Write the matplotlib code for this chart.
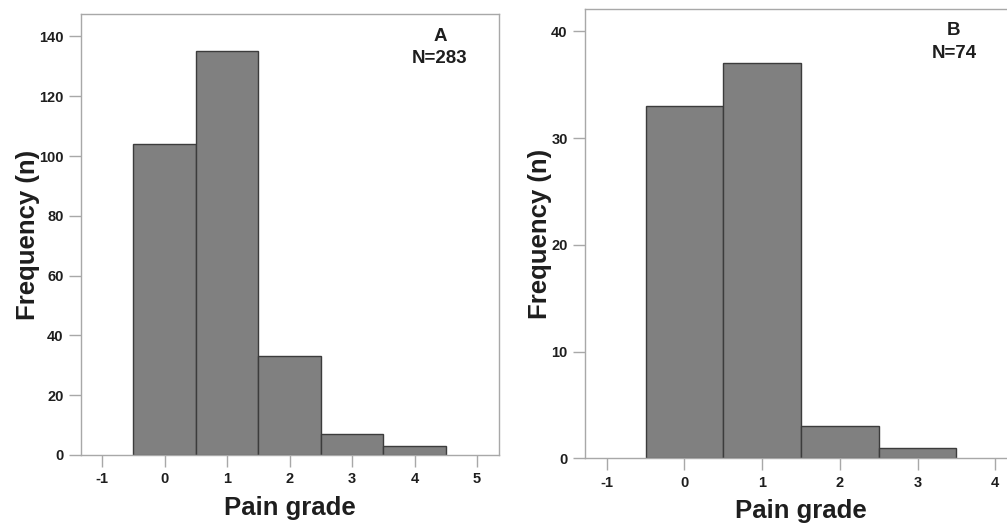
import numpy as np
import matplotlib.pyplot as plt

plt.rcParams['font.family'] = ['Liberation Sans', 'DejaVu Sans']
plt.rcParams['font.weight'] = 'bold'
plt.rcParams['axes.unicode_minus'] = False

# panel A
grades_a = [0, 1, 2, 3, 4]
counts_a = [104, 135, 33, 7, 3]
# panel B
grades_b = [0, 1, 2, 3]
counts_b = [33, 37, 3, 1]

yticks_a = [0, 20, 40, 60, 80, 100, 120, 140]
yticks_b = [0, 10, 20, 30, 40]

BAR = '#808080'
EDGE = '#3c3c3c'
SPINE = '#a8a8a8'
TXT = '#1e1e1e'

fig = plt.figure(figsize=(10.07, 5.26), dpi=100)
ax_a = fig.add_axes([0.0804, 0.135, 0.4151, 0.8384])
ax_b = fig.add_axes([0.5809, 0.1287, 0.429, 0.8542])


def style(ax, xlim, ylim, xticks, yticks):
    ax.set_xlim(*xlim)
    ax.set_ylim(*ylim)
    ax.set_xticks(xticks)
    ax.set_yticks(yticks)
    for s in ax.spines.values():
        s.set_color(SPINE)
        s.set_linewidth(1.0)
    ax.tick_params(direction='out', length=8.5, width=1.0, color=SPINE,
                   labelsize=10.5, labelcolor=TXT, pad=4)
    for lab in ax.get_xticklabels() + ax.get_yticklabels():
        lab.set_fontweight('bold')
    ax.set_xlabel('Pain grade', fontsize=18.5, fontweight='bold', color=TXT, labelpad=7)
    ax.set_ylabel('Frequency (n)', fontsize=18.5, fontweight='bold', color=TXT, labelpad=-0.5)


ax_a.bar(grades_a, counts_a, width=1.0, color=BAR, edgecolor=EDGE, linewidth=1.0)
style(ax_a, (-1.34, 5.35), (0, 147.5), range(-1, 6), yticks_a)
ax_a.text(0.859, 0.948, 'A', transform=ax_a.transAxes, ha='center', va='center',
          fontsize=13.5, fontweight='bold', color=TXT)
ax_a.text(0.859, 0.898, 'N=283', transform=ax_a.transAxes, ha='center', va='center',
          fontsize=13.5, fontweight='bold', color=TXT)

ax_b.bar(grades_b, counts_b, width=1.0, color=BAR, edgecolor=EDGE, linewidth=1.0)
style(ax_b, (-1.28, 4.28), (0, 42.1), range(-1, 5), yticks_b)
ax_b.text(0.854, 0.953, 'B', transform=ax_b.transAxes, ha='center', va='center',
          fontsize=13.5, fontweight='bold', color=TXT)
ax_b.text(0.854, 0.902, 'N=74', transform=ax_b.transAxes, ha='center', va='center',
          fontsize=13.5, fontweight='bold', color=TXT)

fig.savefig('out.png', dpi=100)
